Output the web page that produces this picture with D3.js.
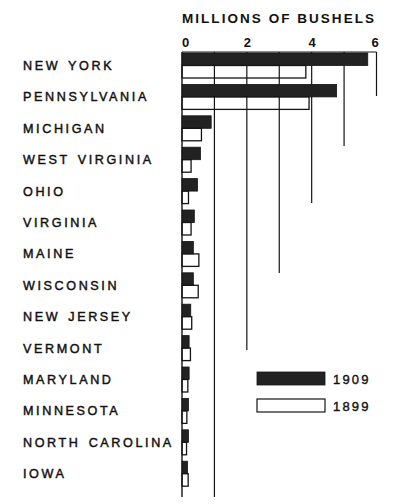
<!DOCTYPE html>
<html>
<head>
<meta charset="utf-8">
<script src="https://cdn.jsdelivr.net/npm/d3@7"></script>
<style>
  html, body { margin: 0; padding: 0; background: #fff; }
  svg { display: block; }
  text { font-family: "Liberation Sans", Arial, sans-serif; fill: #111; }
</style>
</head>
<body>
<svg id="chart" width="393" height="504"></svg>
<script>
// Apple production by state, millions of bushels
const states = [
  "NEW YORK", "PENNSYLVANIA", "MICHIGAN", "WEST VIRGINIA", "OHIO", "VIRGINIA",
  "MAINE", "WISCONSIN", "NEW JERSEY", "VERMONT", "MARYLAND", "MINNESOTA",
  "NORTH CAROLINA", "IOWA"
];
const years = ["1909", "1899"];
const values1909 = [5.73, 4.77, 0.90, 0.57, 0.48, 0.38, 0.35, 0.35, 0.27, 0.22, 0.22, 0.20, 0.20, 0.17];
const values1899 = [3.82, 3.92, 0.60, 0.28, 0.20, 0.28, 0.52, 0.50, 0.30, 0.26, 0.18, 0.15, 0.14, 0.19];
const tickValues = [0, 2, 4, 6];
const gridValues = [1, 2, 3, 4, 5, 6];

const rows = states.map((s, i) => ({ state: s, "1909": values1909[i], "1899": values1899[i] }));

const svg = d3.select("#chart");

// scales
const x = d3.scaleLinear().domain([0, 6]).range([182, 376.5]);
const rowStep = 31.4;
const plotTop = 53;
const y = d3.scaleBand()
  .domain(states)
  .range([plotTop, plotTop + rowStep * (states.length - 0.204)])
  .paddingInner(0.204)
  .paddingOuter(0);
const ySub = d3.scaleBand().domain(years).range([0, y.bandwidth()]).padding(0);
const rowY = d3.scaleLinear().domain([0, 1]).range([plotTop, plotTop + rowStep]);

// each grid line reaches down a different number of rows (stepped frame)
const gridReach = { 1: 14.14, 2: 9.46, 3: 7.01, 4: 4.78, 5: 2.96, 6: 1.37 };

const ink = "#141414";
const solid = "#222";

// grid lines
svg.append("g")
  .selectAll("line")
  .data(gridValues)
  .join("line")
  .attr("x1", d => x(d)).attr("x2", d => x(d))
  .attr("y1", rowY(0) - 1).attr("y2", d => rowY(gridReach[d]))
  .attr("stroke", ink).attr("stroke-width", 1.2);

// top rule and zero axis
svg.append("line")
  .attr("x1", x(0)).attr("x2", x(6))
  .attr("y1", rowY(0) - 1).attr("y2", rowY(0) - 1)
  .attr("stroke", ink).attr("stroke-width", 1.2);
svg.append("line")
  .attr("x1", x(0)).attr("x2", x(0))
  .attr("y1", rowY(0) - 1).attr("y2", rowY(14.14))
  .attr("stroke", ink).attr("stroke-width", 1.4);

// bars
const groups = svg.append("g")
  .selectAll("g")
  .data(rows)
  .join("g")
  .attr("transform", d => `translate(0,${y(d.state)})`);

groups.selectAll("rect")
  .data(d => years.map(yr => ({ year: yr, value: d[yr] })))
  .join("rect")
  .attr("x", x(0))
  .attr("y", d => ySub(d.year))
  .attr("width", d => x(d.value) - x(0))
  .attr("height", ySub.bandwidth())
  .attr("fill", d => d.year === "1909" ? solid : "none")
  .attr("stroke", ink)
  .attr("stroke-width", d => d.year === "1909" ? 0.8 : 1.3);

// state labels (medium weight: regular face with a thin outline)
svg.append("g")
  .selectAll("text")
  .data(states)
  .join("text")
  .attr("x", 23)
  .attr("y", d => y(d) + y.bandwidth() / 2 + 4.5)
  .attr("font-size", 12.6)
  .attr("stroke", "#111")
  .attr("stroke-width", 0.45)
  .attr("letter-spacing", 2.6)
  .attr("word-spacing", 2)
  .text(d => d);

// top axis
const axis = d3.axisTop(x).tickValues(tickValues).tickSize(0).tickPadding(0).tickFormat(d3.format("d"));
const axisG = svg.append("g").attr("transform", "translate(0,47)").call(axis);
axisG.select(".domain").remove();
axisG.selectAll("text")
  .attr("font-size", 13)
  .attr("font-weight", "bold")
  .attr("fill", ink)
  .attr("dy", 0)
  .attr("dx", d => d === 0 ? 3 : (d === 6 ? -2 : 0))
  .style("font-family", "'Liberation Sans', Arial, sans-serif");

// axis title
svg.append("text")
  .attr("x", 182)
  .attr("y", 23)
  .attr("font-size", 13.5)
  .attr("font-weight", "bold")
  .attr("textLength", 192)
  .attr("lengthAdjust", "spacing")
  .text("MILLIONS OF BUSHELS");

// legend
const legend = svg.append("g")
  .selectAll("g")
  .data(years)
  .join("g")
  .attr("transform", (d, i) => `translate(257,${372 + i * 27})`);
legend.append("rect")
  .attr("width", 68).attr("height", 13)
  .attr("fill", d => d === "1909" ? solid : "#fff")
  .attr("stroke", ink)
  .attr("stroke-width", d => d === "1909" ? 0.8 : 1.2);
legend.append("text")
  .attr("x", 76).attr("y", 12)
  .attr("font-size", 13)
  .attr("stroke", "#111")
  .attr("stroke-width", 0.4)
  .attr("letter-spacing", 2.2)
  .text(d => d);
</script>
</body>
</html>
